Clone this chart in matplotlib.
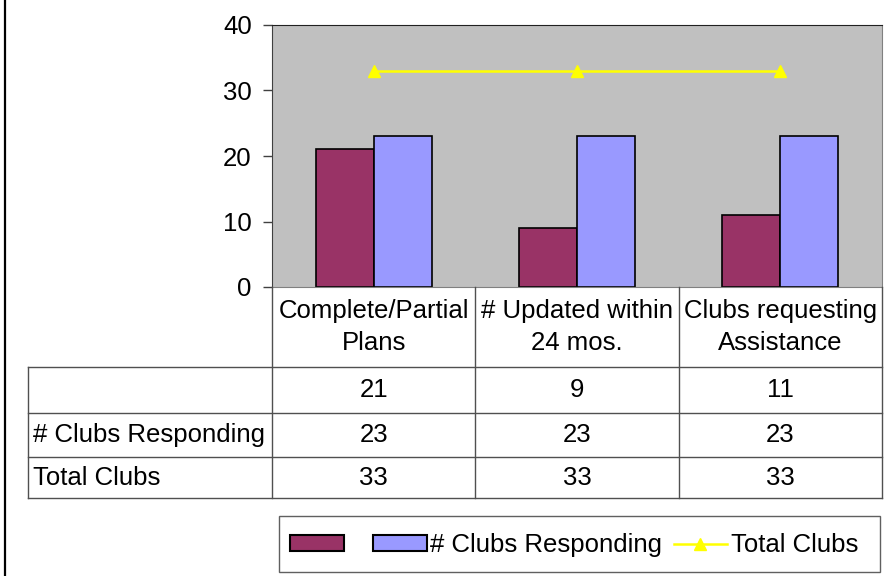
import numpy as np
import matplotlib.pyplot as plt
from matplotlib.patches import Patch, Rectangle
from matplotlib.lines import Line2D

plt.rcParams['font.family'] = ['Liberation Sans', 'DejaVu Sans']

# --- data ---
categories = ["Complete/Partial\nPlans", "# Updated within\n24 mos.", "Clubs requesting\nAssistance"]
series_names = ["", "# Clubs Responding", "Total Clubs"]
first_vals = [21, 9, 11]
responding = [23, 23, 23]
total_clubs = [33, 33, 33]
yticks = [0, 10, 20, 30, 40]

MAROON = "#993366"
PERIWINKLE = "#9999FF"
YELLOW = "#FFFF00"
PLOT_BG = "#C0C0C0"
GRID_C = "#505050"
FS = 18.5

W, H = 890, 576
fig = plt.figure(figsize=(W / 100, H / 100), dpi=100)

# plot area in pixel units
px_l, px_r, px_t, px_b = 272, 882, 25, 287
ax = fig.add_axes([px_l / W, 1 - px_b / H, (px_r - px_l) / W, (px_b - px_t) / H])
ax.set_facecolor(PLOT_BG)

x = np.arange(len(categories))
bw = 0.286
ax.bar(x - bw / 2, first_vals, bw, color=MAROON, edgecolor="black", linewidth=1.2, zorder=2)
ax.bar(x + bw / 2, responding, bw, color=PERIWINKLE, edgecolor="black", linewidth=1.2, zorder=2)
ax.plot(x, total_clubs, color=YELLOW, linewidth=1.8, marker="^", markersize=9,
        markerfacecolor=YELLOW, markeredgecolor=YELLOW, zorder=3)

ax.set_xlim(-0.5, 2.5)
ax.set_ylim(0, 40)
ax.set_yticks(yticks)
ax.set_xticks([])
ax.tick_params(axis="y", direction="out", length=6.5, width=1, color="#404040",
               labelsize=FS, pad=8)
for s in ["top", "right", "bottom"]:
    ax.spines[s].set_color("#808080")
ax.spines["left"].set_color("#404040")
ax.spines["top"].set_color("#202020")

# --- data table under the chart ---
tbl_l = 28
cat_px = (px_r - px_l) / 3
row_edges = [287, 367, 413, 457, 498]
tax = fig.add_axes([tbl_l / W, 1 - row_edges[-1] / H, (px_r - tbl_l) / W,
                    (row_edges[-1] - row_edges[0]) / H])
tax.set_xlim(-0.5 - (px_l - tbl_l) / cat_px, 2.5)
tax.set_ylim(row_edges[-1], row_edges[0])
tax.axis("off")
x0 = tax.get_xlim()[0]

lw = 1
for xv in [-0.5, 0.5, 1.5, 2.5]:
    tax.plot([xv, xv], [row_edges[0], row_edges[-1]], color=GRID_C, lw=lw, clip_on=False)
tax.plot([x0, x0], [row_edges[1], row_edges[-1]], color=GRID_C, lw=lw, clip_on=False)
for yv in row_edges[1:]:
    tax.plot([x0, 2.5], [yv, yv], color=GRID_C, lw=lw, clip_on=False)

for i, c in enumerate(categories):
    tax.text(i, (row_edges[0] + row_edges[1]) / 2, c, ha="center", va="center",
             fontsize=FS, linespacing=1.45)

rows = [first_vals, responding, total_clubs]
for r, (name, vals) in enumerate(zip(series_names, rows)):
    yc = (row_edges[r + 1] + row_edges[r + 2]) / 2
    tax.text(x0 + 5 / cat_px, yc, name, ha="left", va="center", fontsize=FS)
    for i, v in enumerate(vals):
        tax.text(i, yc, str(v), ha="center", va="center", fontsize=FS)

# --- legend ---
handles = [
    Patch(facecolor=MAROON, edgecolor="black", linewidth=1.5),
    Patch(facecolor=PERIWINKLE, edgecolor="black", linewidth=1.5),
    Line2D([], [], color=YELLOW, lw=1.8, marker="^", markersize=9,
           markerfacecolor=YELLOW, markeredgecolor=YELLOW),
]
leg = fig.legend(handles, ["  ", series_names[1], series_names[2]], ncol=3,
                 loc="center", bbox_to_anchor=(574 / W, 1 - 545 / H),
                 fontsize=FS, frameon=False,
                 handlelength=2.1, handleheight=0.55, handletextpad=0.12,
                 columnspacing=0.45, borderpad=0.3, borderaxespad=0)
fig.add_artist(Rectangle((279 / W, 1 - 572 / H), (880 - 279) / W, (572 - 516) / H,
                         transform=fig.transFigure, facecolor="none",
                         edgecolor="#606060", linewidth=1))

# chart outer border (left edge only visible)
fig.add_artist(Line2D([5 / W, 5 / W], [0, 1], color="black", lw=1.6))

fig.savefig("out.png", dpi=100)
